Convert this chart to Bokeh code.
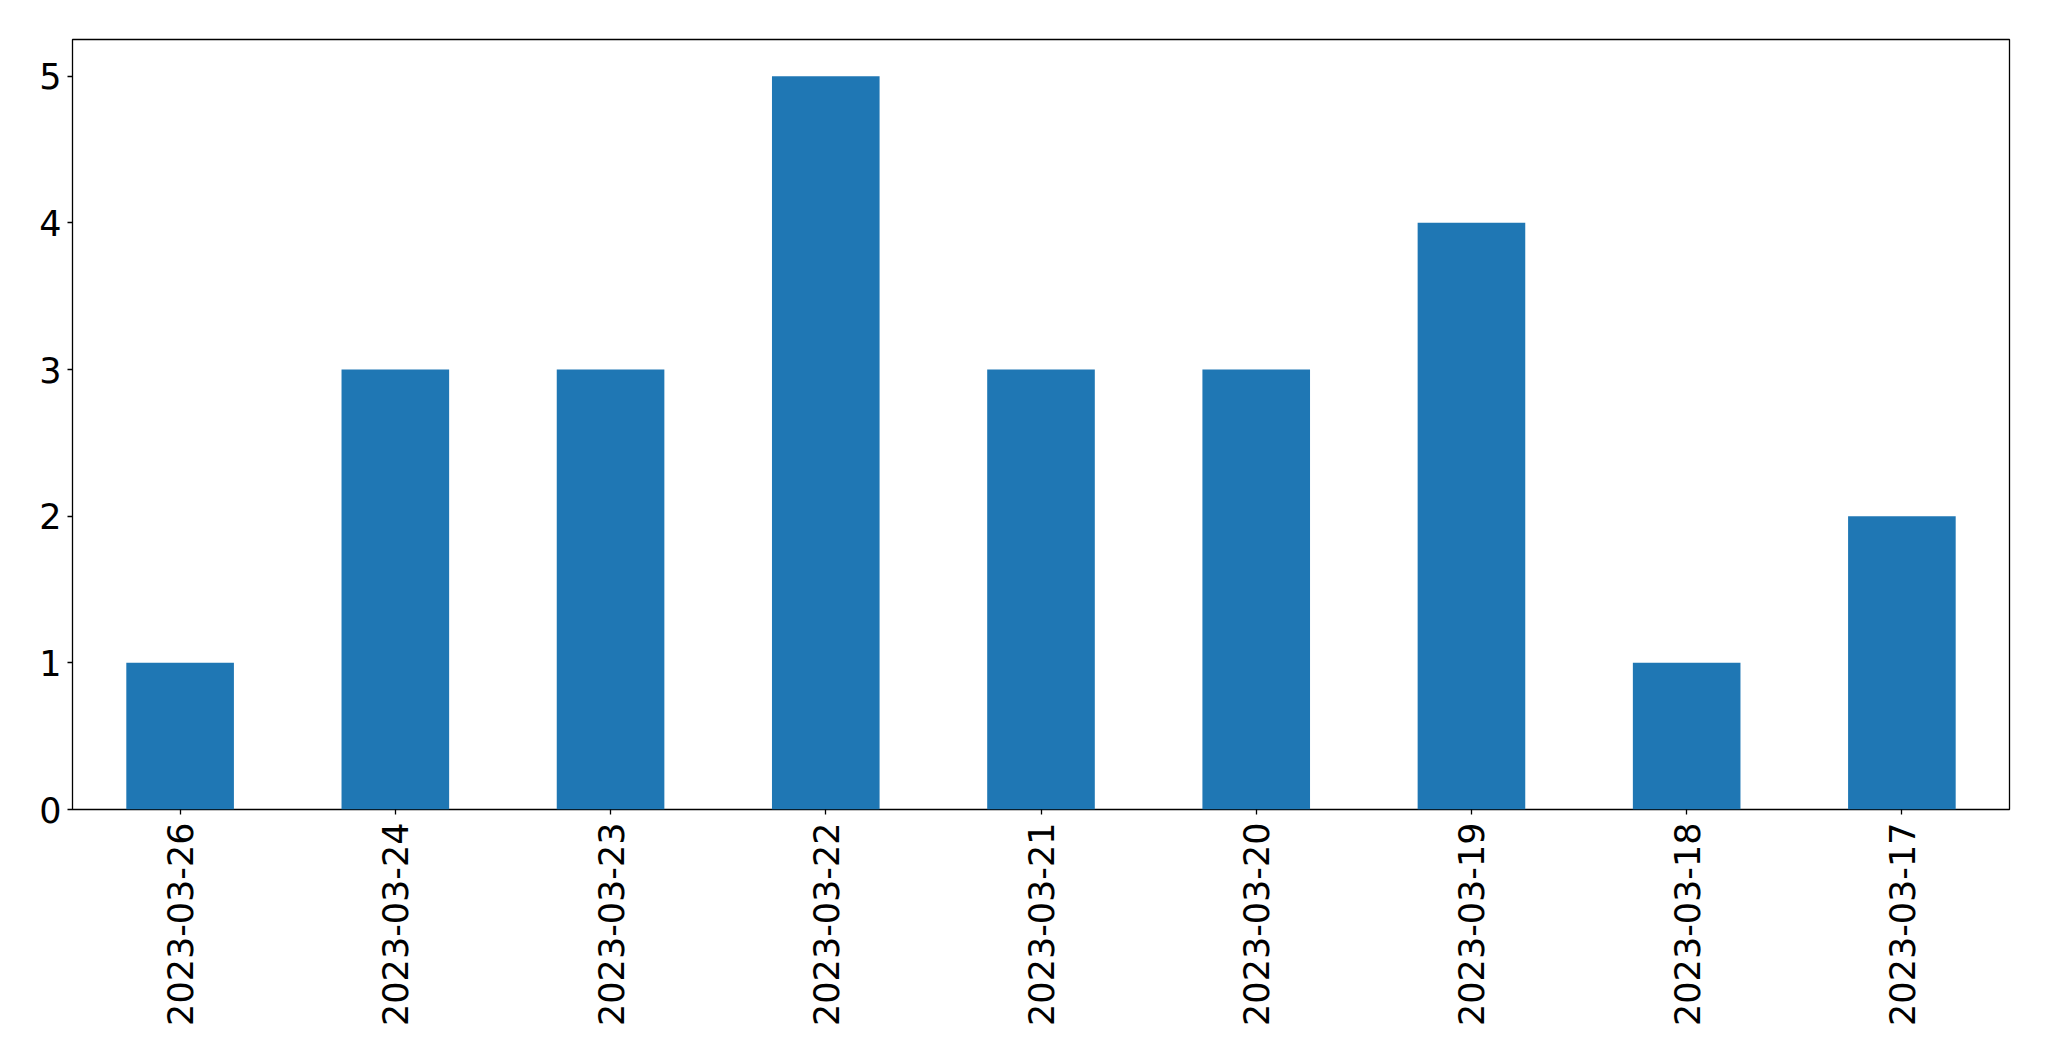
import math
from bokeh.plotting import figure
from bokeh.models import FactorRange, Range1d, FixedTicker, ColumnDataSource
from bokeh.embed import file_html
from bokeh.resources import INLINE

dates = ["2023-03-26", "2023-03-24", "2023-03-23", "2023-03-22", "2023-03-21",
         "2023-03-20", "2023-03-19", "2023-03-18", "2023-03-17"]
counts = [1, 3, 3, 5, 3, 3, 4, 1, 2]
y_ticks = [0, 1, 2, 3, 4, 5]

src = ColumnDataSource(dict(date=dates, count=counts))

p = figure(x_range=FactorRange(*dates, range_padding=0), y_range=Range1d(0, 5.25),
           frame_width=1937, frame_height=770,
           min_border_left=72, min_border_top=39, min_border_right=30, min_border_bottom=20,
           output_backend="svg", toolbar_location=None)

p.vbar(x="date", top="count", width=0.5, source=src, fill_color="#1f77b4", line_color=None)

p.xgrid.visible = False
p.ygrid.visible = False
p.outline_line_color = "black"
p.outline_line_width = 1.3
p.outline_line_alpha = 1.0

p.yaxis.ticker = FixedTicker(ticks=y_ticks)
for ax in (p.xaxis[0], p.yaxis[0]):
    ax.axis_line_color = None
    ax.major_tick_out = 5
    ax.major_tick_in = 0
    ax.minor_tick_out = 0
    ax.minor_tick_in = 0
    ax.major_tick_line_color = "black"
    ax.major_tick_line_width = 1.3
    ax.major_label_text_font = "DejaVu Sans"
    ax.major_label_text_font_size = "35px"
    ax.major_label_text_color = "black"

p.yaxis.major_label_standoff = 6
p.xaxis.major_label_standoff = 8
p.xaxis.major_label_orientation = math.pi / 2

open("out.html", "w").write(file_html(p, INLINE))
